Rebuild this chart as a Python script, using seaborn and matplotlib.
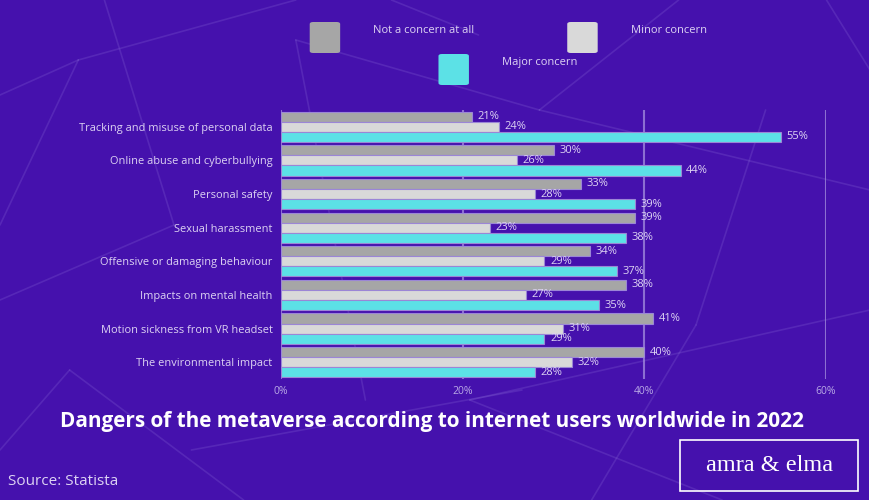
import numpy as np
import pandas as pd
import matplotlib.pyplot as plt
import seaborn as sns
from matplotlib.patches import FancyBboxPatch, Rectangle
from matplotlib.lines import Line2D

categories = ['Tracking and misuse of personal data', 'Online abuse and cyberbullying',
              'Personal safety', 'Sexual harassment', 'Offensive or damaging behaviour',
              'Impacts on mental health', 'Motion sickness from VR headset',
              'The environmental impact']
not_concern = [21, 30, 33, 39, 34, 38, 41, 40]
minor = [24, 26, 28, 23, 29, 27, 31, 32]
major = [55, 44, 39, 38, 37, 35, 29, 28]
series = ['Not a concern at all', 'Minor concern', 'Major concern']
colors = ['#a6a6a6', '#d9d9d9', '#5ce1e6']
xticks = [0, 20, 40, 60]

bg = '#4511ad'
txt = '#ddd3f3'

df = pd.DataFrame({
    'cat': categories * 3,
    'val': not_concern + minor + major,
    'series': [s for s in series for _ in categories],
})

sns.set_style('white')
plt.rcParams['font.family'] = ['Open Sans', 'DejaVu Sans']

fig = plt.figure(figsize=(8.7, 5), dpi=100, facecolor=bg)

# faint background web lines (decoration)
deco = [((0, 0.81), (0.09, 0.88)), ((0.09, 0.88), (0.34, 1.0)), ((0.09, 0.88), (0.0, 0.55)),
        ((0.34, 0.92), (0.42, 0.2)), ((0.34, 0.92), (0.62, 0.78)), ((0.62, 0.78), (0.78, 1.0)),
        ((0.62, 0.78), (1.0, 0.62)), ((0.08, 0.26), (0.28, 0.0)), ((0.08, 0.26), (0.0, 0.1)),
        ((0.54, 0.2), (0.83, 0.0)), ((0.54, 0.2), (1.0, 0.38)), ((0.88, 0.78), (0.8, 0.35)),
        ((0.8, 0.35), (0.68, 0.0)), ((0.12, 1.0), (0.2, 0.55)), ((0.2, 0.55), (0.0, 0.4)),
        ((0.95, 1.0), (1.0, 0.86)), ((0.45, 1.0), (0.55, 0.93)), ((0.22, 0.1), (0.6, 0.22))]
for (x0, y0), (x1, y1) in deco:
    fig.add_artist(Line2D([x0, x1], [y0, y1], transform=fig.transFigure,
                          color='#8a6ad8', alpha=0.25, lw=1.2, zorder=0))

ax = fig.add_axes([0.323, 0.242, 0.6265, 0.538])
ax.set_facecolor('none')

sns.barplot(data=df, y='cat', x='val', hue='series', palette=colors, orient='h',
            width=0.9, gap=0, saturation=1, edgecolor='#9b86d6', linewidth=0.8,
            legend=False, ax=ax, zorder=3)

for cont in ax.containers:
    labels = ax.bar_label(cont, fmt='%d%%', padding=4, color=txt, fontsize=8)
    for t in labels:
        t.set_zorder(5)

ax.set_xlim(0, 60)
ax.set_xticks(xticks)
ax.set_xticklabels([f'{v}%' for v in xticks], color='#b9a9e6', fontsize=7.5)
ax.tick_params(axis='both', length=0)
ax.tick_params(axis='x', pad=5)
ax.tick_params(axis='y', pad=6, labelsize=7.9, labelcolor=txt)
ax.set_xlabel('')
ax.set_ylabel('')
ax.grid(axis='x', color='#9f88dc', lw=1.5, alpha=0.8, zorder=0)
ax.grid(axis='y', visible=False)
for s in ax.spines.values():
    s.set_visible(False)

# legend
leg_items = [(0.356, 0.894, series[0]), (0.652, 0.894, series[1]), (0.504, 0.83, series[2])]
for (x, y, lab), c in zip(leg_items, colors):
    fig.add_artist(FancyBboxPatch((x, y), 0.035, 0.062, boxstyle='round,pad=0,rounding_size=0.004',
                                  transform=fig.transFigure, facecolor=c, edgecolor='none'))
    fig.text(x + 0.073, y + 0.055, lab, color=txt, fontsize=8, va='top', ha='left')

fig.text(0.496, 0.158, 'Dangers of the metaverse according to internet users worldwide in 2022',
         ha='center', va='center', color='white', fontsize=14.95, fontweight='bold')
fig.text(0.009, 0.037, 'Source: Statista', color=txt, fontsize=11, va='center')

fig.add_artist(Rectangle((0.782, 0.018), 0.204, 0.103, transform=fig.transFigure,
                         facecolor='none', edgecolor='white', lw=1.2))
fig.text(0.884, 0.069, 'amra & elma', color='white', fontsize=17.5, ha='center', va='center',
         family='Liberation Serif')

fig.savefig('out.png', dpi=100, facecolor=bg)
